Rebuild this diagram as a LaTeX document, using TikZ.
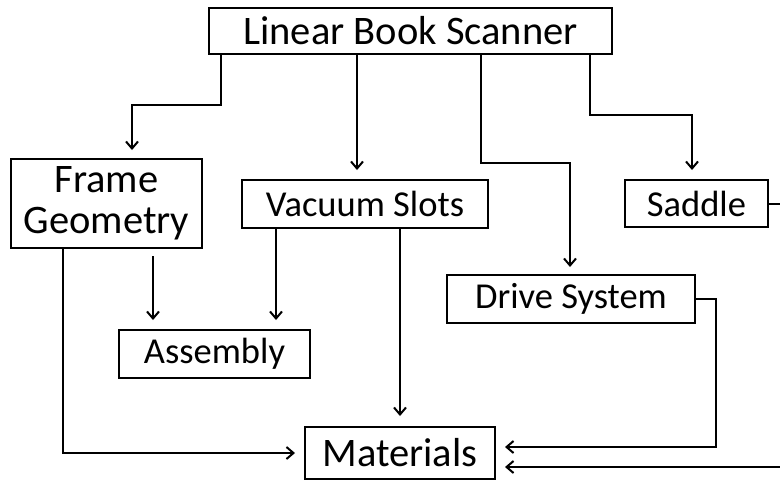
\documentclass[tikz,border=0pt]{standalone}
\usepackage{fontspec}
\setmainfont{Carlito}
\usetikzlibrary{arrows.meta}
\begin{document}
\begin{tikzpicture}[x=1pt,y=-1pt,
  box/.style={draw,line width=2pt,inner sep=0pt,align=center,anchor=center},
  big/.style={font=\fontsize{40.5}{41}\selectfont},
  mid/.style={font=\fontsize{36.5}{40}\selectfont},
  conn/.style={line width=2pt},
  arr/.style={conn,-{Straight Barb[length=7pt,width=12pt,line width=2pt]}}]
\useasboundingbox (0,0) rectangle (780,480);
\node[box,big,minimum width=403pt,minimum height=46pt] (lbs) at (410.5,31) {Linear Book Scanner};
\node[box,big,minimum width=191pt,minimum height=89pt] (fg) at (106.5,203.5) {Frame\\Geometry};
\node[box,mid,minimum width=246pt,minimum height=48pt] (vs) at (365,204) {Vacuum Slots};
\node[box,mid,minimum width=143pt,minimum height=47pt] (sd) at (696.5,203.5) {Saddle};
\node[box,mid,minimum width=248pt,minimum height=48pt] (ds) at (571,299) {Drive System};
\node[box,mid,minimum width=191pt,minimum height=48pt] (asm) at (214.5,354) {Assembly};
\node[box,big,minimum width=190pt,minimum height=52pt] (mat) at (400,453) {Materials};
\coordinate (edgeA) at (781,203.5);
\coordinate (edgeB) at (781,467);
% from top box
\draw[arr] ([xshift=13pt]lbs.south west) -- ++(0,50) -| ([xshift=122pt,yshift=8pt]fg.north west);
\draw[arr] ([xshift=149pt]lbs.south west) -- ([xshift=116pt,yshift=9pt]vs.north west);
\draw[arr] ([xshift=273pt]lbs.south west) -- ++(0,108) -| ([xshift=124pt,yshift=7pt]ds.north west);
\draw[arr] ([xshift=382pt]lbs.south west) -- ++(0,60) -| ([xshift=68pt,yshift=9pt]sd.north west);
% lower connectors
\draw[arr] ([xshift=53pt]fg.south west) |- ([xshift=-9pt]mat.west);
\draw[arr] ([xshift=143pt,yshift=-7pt]fg.south west) -- ([xshift=35pt,yshift=9pt]asm.north west);
\draw[arr] ([xshift=35pt]vs.south west) -- ([xshift=158pt,yshift=9pt]asm.north west);
\draw[arr] ([xshift=159pt]vs.south west) -- ([xshift=96pt,yshift=10pt]mat.north west);
\draw[arr] (ds.east) -- ++(20,0) |- ([xshift=9pt,yshift=6pt]mat.east);
\draw[conn] (sd.east) -- (edgeA);
\draw[arr] (edgeB) -- ([xshift=9pt,yshift=-14pt]mat.east);
\end{tikzpicture}
\end{document}
